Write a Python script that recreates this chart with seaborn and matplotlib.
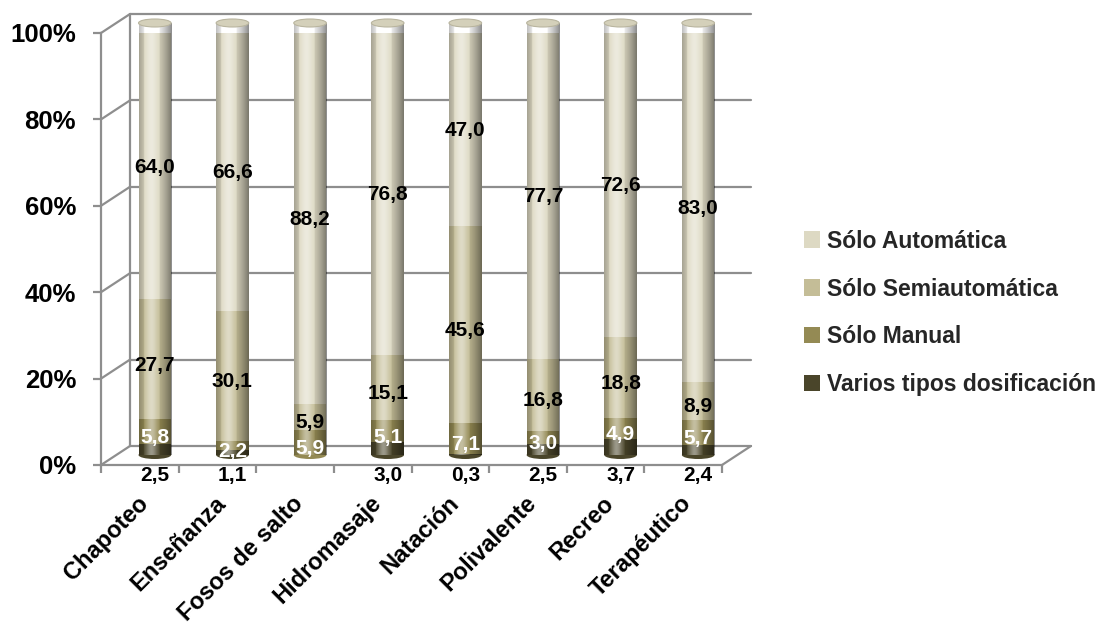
import numpy as np
import pandas as pd
import matplotlib
matplotlib.use("Agg")
import matplotlib.pyplot as plt
import seaborn as sns
from matplotlib.transforms import ScaledTranslation
from matplotlib.patches import Ellipse, Patch

categories = ["Chapoteo", "Enseñanza", "Fosos de salto", "Hidromasaje",
              "Natación", "Polivalente", "Recreo", "Terapéutico"]
varios = [2.5, 1.1, 0.0, 3.0, 0.3, 2.5, 3.7, 2.4]
manual = [5.8, 2.2, 5.9, 5.1, 7.1, 3.0, 4.9, 5.7]
semi = [27.7, 30.1, 5.9, 15.1, 45.6, 16.8, 18.8, 8.9]
auto = [64.0, 66.6, 88.2, 76.8, 47.0, 77.7, 72.6, 83.0]
series_names = ["Varios tipos dosificación", "Sólo Manual",
                "Sólo Semiautomática", "Sólo Automática"]
yticks = [0, 20, 40, 60, 80, 100]
ytick_labels = ["0%", "20%", "40%", "60%", "80%", "100%"]

colors = ["#4A452A", "#948A54", "#C4BD97", "#DDD9C3"]
label_colors = ["black", "white", "black", "black"]

sns.set_theme(style="white")
plt.rcParams["font.family"] = ["Liberation Sans", "DejaVu Sans"]
plt.rcParams["font.weight"] = "bold"

W, H = 1100, 628
fig = plt.figure(figsize=(W / 100, H / 100), dpi=100)
fig.patch.set_facecolor("white")
ax_l, ax_r, ax_t, ax_b = 101, 722, 33, 465
ax = fig.add_axes([ax_l / W, 1 - ax_b / H, (ax_r - ax_l) / W, (ax_b - ax_t) / H])
ax.set_facecolor("white")

n = len(categories)
ax.set_xlim(-0.5, n - 0.5)
ax.set_ylim(0, 100)

px_x = (ax_r - ax_l) / n      # pixels per x unit
px_y = (ax_b - ax_t) / 100.0  # pixels per y unit

grid_c = "#8E8E8E"
back_dx, back_dy = 29, 19
bar_dx, bar_dy = 15, 10
off_back = ax.transData + ScaledTranslation(back_dx / 100, back_dy / 100, fig.dpi_scale_trans)
off_bar = ax.transData + ScaledTranslation(bar_dx / 100, bar_dy / 100, fig.dpi_scale_trans)

# back wall gridlines and left wall
for yv in yticks:
    ax.plot([-0.5, n - 0.5], [yv, yv], color=grid_c, lw=1.6, transform=off_back,
            clip_on=False, zorder=0.5)
    ax.plot([-0.5, -0.5 + back_dx / px_x], [yv, yv + back_dy / px_y], color=grid_c,
            lw=1.6, clip_on=False, zorder=0.5)
ax.plot([-0.5, -0.5], [0, 100], color=grid_c, lw=1.6, transform=off_back,
        clip_on=False, zorder=0.5)
ax.plot([n - 0.5, n - 0.5 + back_dx / px_x], [0, back_dy / px_y], color=grid_c,
        lw=1.6, clip_on=False, zorder=0.5)

# stacked cylinders via seaborn (cumulative, tallest first)
stack = np.array([varios, manual, semi, auto])
cum = np.cumsum(stack, axis=0)
bar_w = 0.42
df = pd.DataFrame({"cat": categories})
seg_patches = []
for k in range(3, -1, -1):
    before = len(ax.patches)
    df["v"] = cum[k]
    sns.barplot(data=df, x="cat", y="v", color=colors[k], width=bar_w,
                saturation=1, ax=ax, zorder=2, linewidth=0)
    new = ax.patches[before:]
    for p in new:
        p.set_transform(off_bar)
    seg_patches.append(new)

# cylinder shading overlays
N = 64
u = np.linspace(0, 1, N)
shade = np.zeros((1, N, 4))
hl = np.exp(-((u - 0.38) / 0.18) ** 2)
dark = np.clip((u - 0.45) / 0.55, 0, 1) ** 1.5 * 0.45 + np.clip((0.25 - u) / 0.25, 0, 1) * 0.25
for i in range(N):
    if hl[i] * 0.45 > dark[i]:
        shade[0, i] = [1, 1, 1, hl[i] * 0.45]
    else:
        shade[0, i] = [0, 0, 0, dark[i]]
tallest = seg_patches[0]
for p in tallest:
    x0 = p.get_x()
    x1 = x0 + p.get_width()
    im = ax.imshow(shade, extent=(x0, x1, 0, 100), aspect="auto",
                   interpolation="bilinear", zorder=3)
    im.set_transform(off_bar)
    im.set_clip_path(p)
    cx = x0 + p.get_width() / 2
    ax.add_patch(Ellipse((cx, p.get_height()), p.get_width(), 8 / px_y,
                         facecolor="#D4D0BA", edgecolor="#B9B59F", lw=0.8,
                         transform=off_bar, zorder=4, clip_on=False))
ax.set_xlim(-0.5, n - 0.5)
ax.set_ylim(0, 100)

# bottom rounding of cylinders
for i in range(n):
    k0 = 0 if varios[i] > 0 else 1
    ax.add_patch(Ellipse((i, 0), bar_w, 8 / px_y, facecolor=colors[k0],
                         edgecolor="none", transform=off_bar, zorder=1.9,
                         clip_on=False))

# data labels
lab_off = ax.transData + ScaledTranslation(bar_dx / 100, 4 / 100, fig.dpi_scale_trans)
below_off = ax.transData + ScaledTranslation(bar_dx / 100, -10 / 100, fig.dpi_scale_trans)
for i in range(n):
    for k in range(4):
        v = stack[k, i]
        if v <= 0:
            continue
        txt = f"{v:.1f}".replace(".", ",")
        if k == 0:
            ax.text(i, 0, txt, ha="center", va="center", fontsize=15,
                    fontweight="bold", color="black", transform=below_off,
                    zorder=6, clip_on=False)
        else:
            mid = cum[k, i] - v / 2
            ax.text(i, mid, txt, ha="center", va="center", fontsize=15,
                    fontweight="bold", color=label_colors[k], transform=lab_off,
                    zorder=6, clip_on=False)

# axes styling
for s in ["top", "right"]:
    ax.spines[s].set_visible(False)
for s in ["left", "bottom"]:
    ax.spines[s].set_color(grid_c)
    ax.spines[s].set_linewidth(1.6)
    ax.spines[s].set_zorder(0.6)
ax.set_yticks(yticks)
ax.set_yticklabels(ytick_labels, fontsize=18.5, fontweight="bold")
ax.set_xticks(range(n))
ax.set_xticklabels(categories, fontsize=17, fontweight="bold", rotation=45,
                   ha="right", va="center", rotation_mode="anchor")
ax.set_xticks(np.arange(-0.5, n, 1.0), minor=True)
ax.tick_params(axis="y", which="major", left=True, length=6, width=1.6,
               color=grid_c, pad=12, labelcolor="black")
ax.tick_params(axis="x", which="major", bottom=False, length=0, pad=25,
               labelcolor="black")
ax.tick_params(axis="x", which="minor", bottom=True, length=6, width=1.6,
               color=grid_c)
for lab in ax.get_xticklabels():
    lab.set_transform(lab.get_transform() + ScaledTranslation(0.05, 0, fig.dpi_scale_trans))
ax.set_xlabel("")
ax.set_ylabel("")
ax.grid(False)

# legend
handles = [Patch(facecolor=colors[k], edgecolor="none", label=series_names[k])
           for k in range(3, -1, -1)]
fig.legend(handles=handles, loc="center left", bbox_to_anchor=(783 / W, 1 - 313 / H),
           frameon=False, prop={"size": 16.5, "weight": "bold"}, labelspacing=1.09,
           handlelength=0.7, handleheight=0.7, handletextpad=0.3)

fig.savefig("out.png", dpi=100, facecolor="white")
